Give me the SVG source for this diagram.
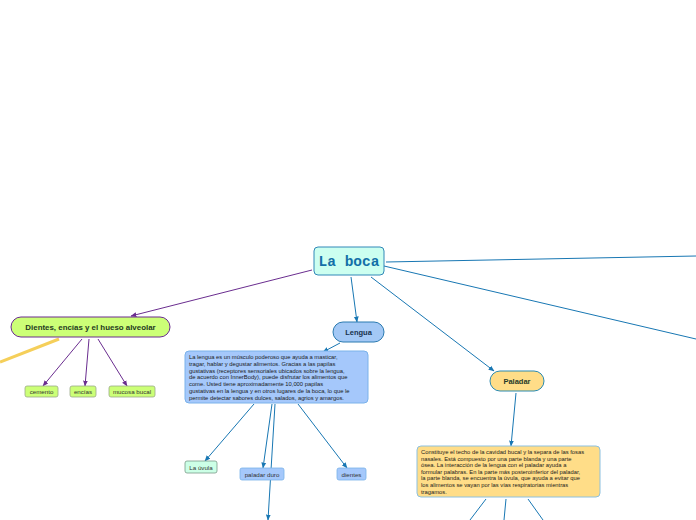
<svg xmlns="http://www.w3.org/2000/svg" width="696" height="520" viewBox="0 0 696 520">
<defs>
<style>
.t{font-family:"Liberation Sans",Arial,sans-serif;}
.b{font-weight:bold;}
.c{fill:none;stroke:#1877b3;stroke-width:1;}
.p{fill:none;stroke:#6a2d8f;stroke-width:1;}
.body{font-family:"Liberation Sans",Arial,sans-serif;font-size:5.8px;fill:#1a1a1a;}
.lab{font-family:"Liberation Sans",Arial,sans-serif;font-size:6.2px;fill:#333;text-anchor:middle;}
</style>
<marker id="ab" viewBox="0 0 10 10" refX="9" refY="5" markerWidth="6" markerHeight="6" orient="auto"><path d="M0,1 L10,5 L0,9 Z" fill="#1877b3"/></marker>
<marker id="ap" viewBox="0 0 10 10" refX="9" refY="5" markerWidth="6" markerHeight="6" orient="auto"><path d="M0,1 L10,5 L0,9 Z" fill="#6a2d8f"/></marker>
</defs>
<rect width="696" height="520" fill="#ffffff"/>
<g id="connectors">
<line x1="59" y1="339" x2="0" y2="362" stroke="#f5cf5a" stroke-width="3"/>
<line class="p" x1="312" y1="270" x2="131" y2="316" marker-end="url(#ap)"/>
<line class="p" x1="82" y1="339" x2="43" y2="386" marker-end="url(#ap)"/>
<line class="p" x1="89" y1="339" x2="85" y2="386" marker-end="url(#ap)"/>
<line class="p" x1="98" y1="339" x2="127" y2="386" marker-end="url(#ap)"/>
<line class="c" x1="351" y1="277" x2="357" y2="322" marker-end="url(#ab)"/>
<line class="c" x1="340" y1="343" x2="323" y2="352" marker-end="url(#ab)"/>
<line class="c" x1="254" y1="404" x2="205" y2="461" marker-end="url(#ab)"/>
<line class="c" x1="272" y1="404" x2="263" y2="468" marker-end="url(#ab)"/>
<line class="c" x1="275" y1="404" x2="268" y2="520" marker-end="url(#ab)"/>
<line class="c" x1="298" y1="404" x2="347" y2="468" marker-end="url(#ab)"/>
<line class="c" x1="371" y1="277" x2="494" y2="371" marker-end="url(#ab)"/>
<line class="c" x1="516" y1="393" x2="511" y2="446" marker-end="url(#ab)"/>
<line class="c" x1="486" y1="499" x2="470" y2="520"/>
<line class="c" x1="506" y1="499" x2="504" y2="520"/>
<line class="c" x1="528" y1="499" x2="543" y2="520"/>
<line class="c" x1="386" y1="262" x2="696" y2="256" stroke="#3f93cc"/>
<line class="c" x1="384" y1="266" x2="696" y2="339"/>
</g>
<g id="n-laboca">
<rect x="314" y="247" width="70" height="28" rx="4" fill="#ccfff0" stroke="#3188b8" stroke-width="1"/>
<text x="349" y="266" font-family="Liberation Mono, Courier New, monospace" font-weight="bold" font-size="14.5" fill="#1370a8" text-anchor="middle">La boca</text>
</g>
<g id="n-dientes">
<rect x="11" y="317" width="159" height="20" rx="10" fill="#ccff77" stroke="#6a2d8f" stroke-width="1"/>
<text class="t b" x="90.5" y="330" font-size="7.9" fill="#1f3a1f" text-anchor="middle">Dientes, encías y el hueso alveolar</text>
</g>
<g id="n-cemento">
<rect x="25" y="386" width="33" height="11" rx="2" fill="#ccff77" stroke="#9aaa88" stroke-width="0.8"/>
<text class="lab" x="41.5" y="394">cemento</text>
</g>
<g id="n-encias">
<rect x="70" y="386" width="26" height="11" rx="2" fill="#ccff77" stroke="#9aaa88" stroke-width="0.8"/>
<text class="lab" x="83" y="394">encías</text>
</g>
<g id="n-mucosa">
<rect x="109" y="386" width="46" height="11" rx="2" fill="#ccff77" stroke="#9aaa88" stroke-width="0.8"/>
<text class="lab" x="132" y="394">mucosa bucal</text>
</g>
<g id="n-lengua">
<rect x="333" y="322" width="51" height="20" rx="10" fill="#a3c8f5" stroke="#2a7ab0" stroke-width="1"/>
<text class="t b" x="358.5" y="335" font-size="7.5" fill="#17324d" text-anchor="middle">Lengua</text>
</g>
<g id="n-lengua-texto">
<rect x="185" y="351" width="183" height="52" rx="4" fill="#a5c8fb" stroke="#7ab2ea" stroke-width="1"/>
<text class="body" x="189" y="359">La lengua es un músculo poderoso que ayuda a masticar,</text>
<text class="body" x="189" y="365.8">tragar, hablar y degustar alimentos. Gracias a las papilas</text>
<text class="body" x="189" y="372.6">gustativas (receptores sensoriales ubicados sobre la lengua,</text>
<text class="body" x="189" y="379.4">de acuerdo con InnerBody), puede disfrutar los alimentos que</text>
<text class="body" x="189" y="386.2">come. Usted tiene aproximadamente 10,000 papilas</text>
<text class="body" x="189" y="393">gustativas en la lengua y en otros lugares de la boca, lo que le</text>
<text class="body" x="189" y="399.8">permite detectar sabores dulces, salados, agrios y amargos.</text>
</g>
<g id="n-uvula">
<rect x="185" y="461" width="32" height="12" rx="2" fill="#ccffe6" stroke="#7a9a88" stroke-width="0.8"/>
<text class="lab" x="201" y="469.5">La úvula</text>
</g>
<g id="n-paladar-duro">
<rect x="240" y="468" width="44" height="12" rx="2" fill="#a5c8fb" stroke="#7ab2ea" stroke-width="0.8"/>
<text class="lab" x="262" y="476.5">paladar duro</text>
</g>
<g id="n-dientes2">
<rect x="337" y="468" width="29" height="12" rx="2" fill="#a5c8fb" stroke="#7ab2ea" stroke-width="0.8"/>
<text class="lab" x="351.5" y="476.5">dientes</text>
</g>
<g id="n-paladar">
<rect x="490" y="371" width="54" height="20" rx="10" fill="#ffdd88" stroke="#2a8ab0" stroke-width="1"/>
<text class="t b" x="517" y="384" font-size="7.5" fill="#1f3a2a" text-anchor="middle">Paladar</text>
</g>
<g id="n-paladar-texto">
<rect x="417" y="446" width="183" height="51" rx="4" fill="#ffdd88" stroke="#8cc0e0" stroke-width="1"/>
<text class="body" x="421" y="454">Constituye el techo de la cavidad bucal y la separa de las fosas</text>
<text class="body" x="421" y="460.6">nasales. Está compuesto por una parte blanda y una parte</text>
<text class="body" x="421" y="467.2">ósea. La interacción de la lengua con el paladar ayuda a</text>
<text class="body" x="421" y="473.8">formular palabras. En la parte más posteroinferior del paladar,</text>
<text class="body" x="421" y="480.4">la parte blanda, se encuentra la úvula, que ayuda a evitar que</text>
<text class="body" x="421" y="487">los alimentos se vayan por las vías respiratorias mientras</text>
<text class="body" x="421" y="493.6">tragamos.</text>
</g>
</svg>
